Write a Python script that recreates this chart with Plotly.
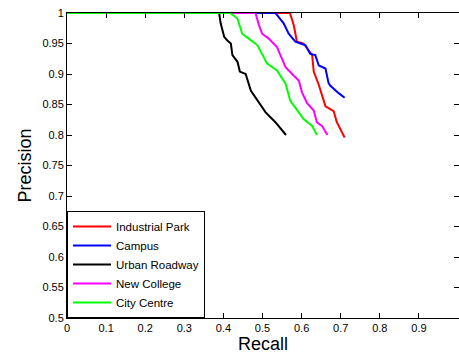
import plotly.graph_objects as go

# Data (Recall, Precision)
names = ["Industrial Park", "Campus", "Urban Roadway", "New College", "City Centre"]
colors = ["#FF0000", "#0000FF", "#000000", "#FF00FF", "#00FF00"]

ip_recall = [0, 0.570, 0.580, 0.588, 0.605, 0.614, 0.627, 0.631, 0.644, 0.661, 0.682, 0.690, 0.707, 0.710]
ip_prec   = [1, 1.000, 0.980, 0.953, 0.950, 0.942, 0.931, 0.904, 0.882, 0.847, 0.839, 0.821, 0.801, 0.796]

campus_recall = [0, 0.533, 0.554, 0.567, 0.584, 0.610, 0.622, 0.635, 0.644, 0.661, 0.669, 0.673, 0.694, 0.710]
campus_prec   = [1, 1.000, 0.983, 0.966, 0.953, 0.947, 0.933, 0.931, 0.914, 0.909, 0.885, 0.881, 0.869, 0.861]

urban_recall = [0, 0.389, 0.393, 0.402, 0.410, 0.419, 0.423, 0.436, 0.442, 0.457, 0.470, 0.491, 0.508, 0.533, 0.560]
urban_prec   = [1, 1.000, 0.983, 0.961, 0.955, 0.950, 0.931, 0.920, 0.904, 0.900, 0.873, 0.854, 0.837, 0.821, 0.800]

newcol_recall = [0, 0.482, 0.491, 0.499, 0.516, 0.537, 0.559, 0.580, 0.593, 0.601, 0.614, 0.631, 0.639, 0.652, 0.666]
newcol_prec   = [1, 1.000, 0.980, 0.966, 0.958, 0.944, 0.911, 0.898, 0.889, 0.870, 0.852, 0.840, 0.821, 0.815, 0.800]

city_recall = [0, 0.417, 0.436, 0.448, 0.465, 0.487, 0.512, 0.537, 0.559, 0.571, 0.584, 0.605, 0.627, 0.639]
city_prec   = [1, 1.000, 0.991, 0.966, 0.958, 0.947, 0.917, 0.906, 0.884, 0.856, 0.845, 0.826, 0.815, 0.800]

x_ticks = [0, 0.1, 0.2, 0.3, 0.4, 0.5, 0.6, 0.7, 0.8, 0.9, 1]
x_ticklabels = ["0", "0.1", "0.2", "0.3", "0.4", "0.5", "0.6", "0.7", "0.8", "0.9", "1"]
y_ticks = [0.5, 0.55, 0.6, 0.65, 0.7, 0.75, 0.8, 0.85, 0.9, 0.95, 1]
y_ticklabels = ["0.5", "0.55", "0.6", "0.65", "0.7", "0.75", "0.8", "0.85", "0.9", "0.95", "1"]

series = [
    (ip_recall, ip_prec),
    (campus_recall, campus_prec),
    (urban_recall, urban_prec),
    (newcol_recall, newcol_prec),
    (city_recall, city_prec),
]

fig = go.Figure()
for (xs, ys), name, color in zip(series, names, colors):
    fig.add_trace(go.Scatter(x=xs, y=ys, mode="lines", name=name,
                             line=dict(color=color, width=2)))

font_family = "Liberation Sans, Arial, sans-serif"
fig.update_layout(
    width=459, height=359,
    margin=dict(l=67, r=0, t=13, b=41),
    paper_bgcolor="white", plot_bgcolor="white",
    font=dict(family=font_family, size=11, color="black"),
    showlegend=True,
    legend=dict(x=0, y=0, xanchor="left", yanchor="bottom",
                bgcolor="white", bordercolor="black", borderwidth=1,
                font=dict(size=11.5), tracegroupgap=0, itemwidth=38),
    xaxis=dict(range=[0, 1.0025], tickvals=x_ticks, ticktext=x_ticklabels,
               ticks="inside", ticklen=5, tickcolor="black",
               showline=True, linecolor="black", linewidth=1, mirror="ticks",
               showgrid=False, zeroline=False,
               title=dict(text="Recall", font=dict(size=18), standoff=4)),
    yaxis=dict(range=[0.5, 1], tickvals=y_ticks, ticktext=y_ticklabels,
               ticks="inside", ticklen=5, tickcolor="black",
               showline=True, linecolor="black", linewidth=1, mirror="ticks",
               showgrid=False, zeroline=False,
               title=dict(text="Precision", font=dict(size=18), standoff=6)),
)

fig.write_html("out.html")
